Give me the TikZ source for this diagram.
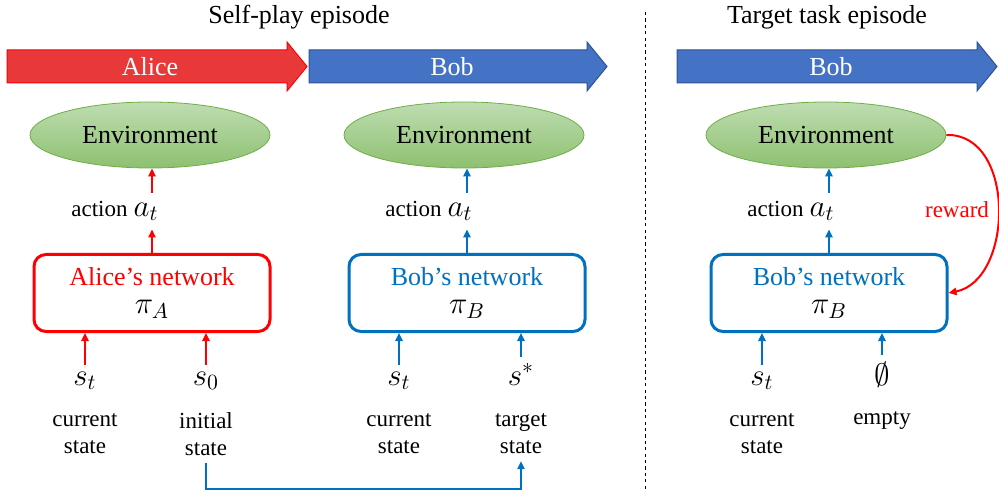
\RequirePackage{fix-cm}
\documentclass[tikz,border=0pt]{standalone}
\usepackage[no-math]{fontspec}
\setmainfont{Liberation Serif}
\usepackage{amsmath, amssymb}
\usetikzlibrary{shapes.geometric}
\usetikzlibrary{arrows.meta}
\usetikzlibrary{calc}

\definecolor{alicefill}{RGB}{232,56,58}
\definecolor{bobfill}{RGB}{68,114,196}
\definecolor{bobedge}{RGB}{47,82,143}
\definecolor{envtop}{RGB}{190,221,177}
\definecolor{envbot}{RGB}{142,192,112}
\definecolor{envedge}{RGB}{112,173,71}
\definecolor{netblue}{RGB}{0,112,192}

\newcommand{\bigtxt}{\fontsize{13}{14}\selectfont}
\newcommand{\smalltxt}{\fontsize{11.5}{13.5}\selectfont}
\newcommand{\mathtxt}{\fontsize{15.5}{16}\selectfont}

\begin{document}
\begin{tikzpicture}[x=0.5pt, y=-0.5pt]
        % ================= styles =================
        \tikzset{
            % top bars
            alicebar/.style={draw=red, fill=alicefill, line width=0.5pt},
            bobbar/.style={draw=bobedge, fill=bobfill, line width=0.5pt},
            bartext/.style={text=white, font=\bigtxt},
            % environment
            envnode/.style={ellipse, draw=envedge, top color=envtop, bottom color=envbot, minimum width=120pt, minimum height=33pt, inner sep=0pt, font=\bigtxt},
            % networks
            netbox/.style={rectangle, rounded corners=6pt, line width=1.5pt, fill=white, minimum width=118pt, minimum height=38.5pt, align=center, font=\bigtxt},
            alicebox/.style={netbox, draw=red, text=red},
            bobbox/.style={netbox, draw=netblue, text=netblue},
            % labels
            actnode/.style={font=\smalltxt, minimum height=18pt, inner sep=0pt, anchor=west},
            mnode/.style={font=\mathtxt, anchor=base},
            lnode/.style={font=\smalltxt, align=center},
            % flows
            redflow/.style={line width=1pt, red, -{Triangle[length=4pt, width=3.6pt]}},
            blueflow/.style={line width=1pt, netblue, -{Triangle[length=4pt, width=3.6pt]}},
            linkflow/.style={line width=0.8pt, netblue, -{Triangle[length=4pt, width=3.6pt]}},
            sepline/.style={thin, dash pattern=on 1.6pt off 1.6pt}
        }
        \useasboundingbox (0,0) rectangle (999,491);

        % ================= titles and separator =================
        \node[font=\bigtxt] (t1) at (299,17) {Self-play episode};
        \node[font=\bigtxt] (t2) at (827,17) {Target task episode};
        \draw[sepline] (645,12) -- (645,491);

        % ================= top bars =================
        \draw[alicebar] (7,50) -- (287,50) -- (287,42) -- (307,66.5) -- (287,91) -- (287,83) -- (7,83) -- cycle;
        \draw[bobbar] (309,50) -- (587,50) -- (587,42) -- (607,66.5) -- (587,91) -- (587,83) -- (309,83) -- cycle;
        \draw[bobbar] (677,50) -- (977,50) -- (977,42) -- (997,66.5) -- (977,91) -- (977,83) -- (677,83) -- cycle;
        \node[bartext] (alice) at (150,67) {Alice};
        \node[bartext] (bob1) at (452,67) {Bob};
        \node[bartext] (bob2) at (831,67) {Bob};

        % ================= environments =================
        \node[envnode] (env1) at (150,135) {Environment};
        \node[envnode] (env2) at (464,135) {Environment};
        \node[envnode] (env3) at (826,135) {Environment};

        % ================= networks =================
        \node[alicebox] (anet) at (152,293) {Alice's network\\\textcolor{black}{\mathtxt$\pi_A$}};
        \node[bobbox] (bnet1) at (467,293) {Bob's network\\\textcolor{black}{\mathtxt$\pi_B$}};
        \node[bobbox] (bnet2) at (829,293) {Bob's network\\\textcolor{black}{\mathtxt$\pi_B$}};

        % ================= actions =================
        \node[actnode] (act1) at (71,211) {action\hspace{3pt}{\mathtxt$a_t$}};
        \node[actnode] (act2) at (385,211) {action\hspace{3pt}{\mathtxt$a_t$}};
        \node[actnode] (act3) at (747,211) {action\hspace{3pt}{\mathtxt$a_t$}};

        \draw[redflow] (anet.north) -- (anet.north |- act1.south);
        \draw[redflow] (anet.north |- act1.north) -- (anet.north |- env1.south);
        \draw[blueflow] (bnet1.north) -- (bnet1.north |- act2.south);
        \draw[blueflow] (bnet1.north |- act2.north) -- (bnet1.north |- env2.south);
        \draw[blueflow] (bnet2.north) -- (bnet2.north |- act3.south);
        \draw[blueflow] (bnet2.north |- act3.north) -- (bnet2.north |- env3.south);

        % ================= inputs =================
        \node[mnode] (s1a) at (85,385) {$s_t$};
        \node[mnode] (s1b) at (206,385) {$s_0$};
        \node[mnode] (s2a) at (399,385) {$s_t$};
        \node[mnode] (s2b) at (521,385) {$s^*$};
        \node[mnode] (s3a) at (762,385) {$s_t$};
        \node[mnode] (s3b) at (882,385) {$\emptyset$};

        \draw[redflow] (s1a.north) -- (s1a.north |- anet.south);
        \draw[redflow] (s1b.north) -- (s1b.north |- anet.south);
        \draw[blueflow] (s2a.north) -- (s2a.north |- bnet1.south);
        \draw[blueflow] (s2b.north) -- (s2b.north |- bnet1.south);
        \draw[blueflow] (s3a.north) -- (s3a.north |- bnet2.south);
        \draw[blueflow] (s3b.north) -- (s3b.north |- bnet2.south);

        % ================= state labels =================
        \node[lnode] (l1a) at (85,434) {current\\state};
        \node[lnode] (l1b) at (206,434) {initial\\state};
        \node[lnode] (l2a) at (399,434) {current\\state};
        \node[lnode] (l2b) at (521,434) {target\\state};
        \node[lnode] (l3a) at (762,434) {current\\state};
        \node[lnode] (l3b) at (882,421) {empty};

        % initial state is handed on as Bob's target
        \coordinate (low) at (0,489);
        \draw[linkflow] (l1b.south) -- (l1b.south |- low) -| (l2b.south);

        % ================= reward =================
        \draw[redflow] (env3.east) .. controls (1016,133) and (1014,280) .. (bnet2.east);
        \node[font=\smalltxt, text=red] (rew) at (957,210) {reward};

    \end{tikzpicture}
\end{document}
